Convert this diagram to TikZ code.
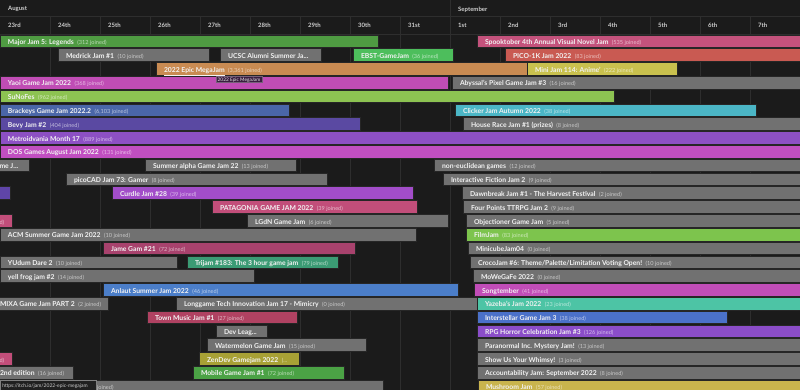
\documentclass[tikz,border=0pt]{standalone}
\usepackage{fontspec}
\setmainfont{Lato}
\definecolor{bg}{HTML}{1B1B1B}
\definecolor{gridc}{HTML}{2E2E2E}
\definecolor{hdrtext}{HTML}{CFCFCF}
\definecolor{cgray}{HTML}{717171}
\definecolor{cmajor}{HTML}{4F9B42}
\definecolor{cspook}{HTML}{C4527C}
\definecolor{cebst}{HTML}{4DBE5C}
\definecolor{cpico}{HTML}{C95A52}
\definecolor{cepic}{HTML}{C98B52}
\definecolor{cmini}{HTML}{C9C14E}
\definecolor{cyaoi}{HTML}{C04DB5}
\definecolor{csuno}{HTML}{8DC352}
\definecolor{cbrack}{HTML}{4A66A8}
\definecolor{cclick}{HTML}{4BB6C6}
\definecolor{cbevy}{HTML}{5A49A2}
\definecolor{cmetro}{HTML}{8D50C4}
\definecolor{cdos}{HTML}{C14FC1}
\definecolor{ccurdle}{HTML}{A24DC9}
\definecolor{cpata}{HTML}{C24E7A}
\definecolor{cfilm}{HTML}{7DC44D}
\definecolor{cjame}{HTML}{A8426D}
\definecolor{ctri}{HTML}{3B9B74}
\definecolor{canlaut}{HTML}{4B7EC9}
\definecolor{csong}{HTML}{C14DB8}
\definecolor{cyaz}{HTML}{4DC4A5}
\definecolor{ctown}{HTML}{B04262}
\definecolor{cinter}{HTML}{4B71C9}
\definecolor{crpg}{HTML}{8B4DC9}
\definecolor{czen}{HTML}{A8A135}
\definecolor{cmobile}{HTML}{4BA245}
\definecolor{cmush}{HTML}{C9B44D}
\definecolor{cindigo}{HTML}{5F45A8}
\definecolor{tipbg}{HTML}{3A1E40}
\definecolor{urlbg}{HTML}{202020}
\tikzset{
  bar/.style={rectangle, inner sep=0pt, outer sep=0pt, anchor=west,
    minimum height=12.6pt, draw=black!85, line width=0.8pt},
  lbl/.style={anchor=west, inner sep=0pt, outer sep=0pt, text=white!95!black,
    text height=6.4pt, text depth=0pt, font=\fontsize{6.8}{7}\selectfont\bfseries},
  hdr/.style={anchor=west, inner sep=0pt, text=hdrtext,
    font=\fontsize{6}{7}\selectfont\bfseries},
  gridline/.style={draw=gridc, line width=0.9pt},
}
\newcounter{jam}
\newcommand\cnt[2]{{\fontsize{5.6}{6}\selectfont\mdseries\color{white!62!#1}#2}}
\newcommand\jam[6]{%
  \stepcounter{jam}%
  \node[bar, fill=#4, minimum width={(#3)-(#2)}] (b\thejam) at (#2,{41.4+(#1-1)*13.8}) {};
  \node[lbl] (t\thejam) at ([xshift=8pt]b\thejam.west)
    {#5\ifx\relax#6\relax\else\hspace{3.5pt}\cnt{#4}{#6}\fi};
}
\newcommand\lab[3]{%
  \stepcounter{jam}%
  \node[lbl] (t\thejam) at (#2,{41.4+(#1-1)*13.8}) {#3};
}
\begin{document}
\begin{tikzpicture}[x=1pt,y=-1pt]
\useasboundingbox (0,0) rectangle (800,390);
\fill[bg] (0,0) rectangle (800,390);
\begin{scope}
\clip (0,0) rectangle (800,390);
% header grid
\draw[gridline] (0,16.5) -- (800,16.5);
\draw[gridline] (0,34) -- (800,34);
\draw[gridline] (450,0) -- (450,17);
\foreach \i in {1,...,15} \draw[gridline] (\i*50,17) -- (\i*50,390);
\node[hdr] (aug) at (8,9.3) {August};
\node[hdr] (sep) at (458,9.3) {September};
\foreach \d [count=\i from 0] in {23rd,24th,25th,26th,27th,28th,29th,30th,31st,1st,2nd,3rd,4th,5th,6th,7th}
  \node[hdr] (d\i) at (\i*50+8,25.5) {\d};
% rows
\jam{1}{0}{378}{cmajor}{Major Jam 5: Legends}{(312 joined)}
\jam{1}{477}{805}{cspook}{Spooktober 4th Annual Visual Novel Jam}{(535 joined)}
\jam{2}{58}{209}{cgray}{Medrick Jam \#1}{(10 joined)}
\jam{2}{220}{321}{cgray}{UCSC Alumni Summer Ja...}{}
\jam{2}{353}{453}{cebst}{EBST-GameJam}{(36 joined)}
\jam{2}{505}{805}{cpico}{PICO-1K Jam 2022}{(83 joined)}
\jam{3}{156}{528}{cepic}{\underline{2022 Epic MegaJam}}{(3,361 joined)}
\jam{3}{527}{677}{cmini}{Mini Jam 114: Anime'}{(222 joined)}
\jam{4}{0}{448}{cyaoi}{Yaoi Game Jam 2022}{(368 joined)}
\jam{4}{452}{805}{cgray}{Abyssal's Pixel Game Jam \#3}{(16 joined)}
\jam{5}{0}{614}{csuno}{SuNoFes}{(962 joined)}
\jam{6}{0}{289}{cbrack}{Brackeys Game Jam 2022.2}{(6,103 joined)}
\jam{6}{455}{756}{cclick}{Clicker Jam Autumn 2022}{(38 joined)}
\jam{7}{0}{360}{cbevy}{Bevy Jam \#2}{(404 joined)}
\jam{7}{463}{805}{cgray}{House Race Jam \#1 (prizes)}{(8 joined)}
\jam{8}{0}{805}{cmetro}{Metroidvania Month 17}{(889 joined)}
\jam{9}{0}{805}{cdos}{DOS Games August Jam 2022}{(131 joined)}
\jam{10}{-30}{29}{cgray}{}{}
\lab{10}{-0.5}{me J...}
\jam{10}{145}{296}{cgray}{Summer alpha Game Jam 22}{(13 joined)}
\jam{10}{434}{805}{cgray}{non-euclidean games}{(12 joined)}
\jam{11}{66}{327}{cgray}{picoCAD Jam 73: Gamer}{(8 joined)}
\jam{11}{443}{805}{cgray}{Interactive Fiction Jam 2}{(9 joined)}
\jam{12}{-30}{10}{cindigo}{}{}
\jam{12}{112}{413}{ccurdle}{Curdle Jam \#28}{(39 joined)}
\jam{12}{462}{805}{cgray}{Dawnbreak Jam \#1 - The Harvest Festival}{(2 joined)}
\jam{13}{212}{417}{cpata}{PATAGONIA GAME JAM 2022}{(39 joined)}
\jam{13}{463}{805}{cgray}{Four Points TTRPG Jam 2}{(9 joined)}
\jam{14}{-30}{12}{cpata}{}{}
\lab{14}{-0.5}{\cnt{cpata}{d)}}
\jam{14}{247}{448}{cgray}{LGdN Game Jam}{(6 joined)}
\jam{14}{466}{805}{cgray}{Objectioner Game Jam}{(5 joined)}
\jam{15}{0}{416}{cgray}{ACM Summer Game Jam 2022}{(10 joined)}
\jam{15}{466}{805}{cfilm}{FilmJam}{(83 joined)}
\jam{16}{103}{355}{cjame}{Jame Gam \#21}{(72 joined)}
\jam{16}{468}{805}{cgray}{MinicubeJam04}{(0 joined)}
\jam{17}{0}{177}{cgray}{YUdum Dare 2}{(10 joined)}
\jam{17}{187}{338}{ctri}{Trijam \#183: The 3 hour game jam}{(79 joined)}
\jam{17}{470}{805}{cgray}{CrocoJam \#6: Theme/Palette/Limitation Voting Open!}{(10 joined)}
\jam{18}{0}{254}{cgray}{yell frog jam \#2}{(14 joined)}
\jam{18}{473}{805}{cgray}{MoWeGaFe 2022}{(0 joined)}
\jam{19}{103}{458}{canlaut}{Anlaut Summer Jam 2022}{(46 joined)}
\jam{19}{474}{805}{csong}{Songtember}{(41 joined)}
\jam{20}{-30}{108}{cgray}{}{}
\lab{20}{0}{MIXA Game Jam PART 2\hspace{3.5pt}\cnt{cgray}{(2 joined)}}
\jam{20}{176}{477}{cgray}{Longgame Tech Innovation Jam 17 - Mimicry}{(0 joined)}
\jam{20}{477}{805}{cyaz}{Yazeba's Jam 2022}{(23 joined)}
\jam{21}{147}{297}{ctown}{Town Music Jam \#1}{(27 joined)}
\jam{21}{477}{727}{cinter}{Interstellar Game Jam 3}{(38 joined)}
\jam{22}{216}{267}{cgray}{Dev Leag...}{}
\jam{22}{477}{805}{crpg}{RPG Horror Celebration Jam \#3}{(126 joined)}
\jam{23}{207}{366}{cgray}{Watermelon Game Jam}{(15 joined)}
\jam{23}{477}{805}{cgray}{Paranormal Inc. Mystery Jam!}{(13 joined)}
\jam{24}{-30}{12}{cpata}{}{}
\lab{24}{-0.5}{\cnt{cpata}{d)}}
\jam{24}{199}{299}{czen}{ZenDev Gamejam 2022}{(...}
\jam{24}{477}{805}{cgray}{Show Us Your Whimsy!}{(3 joined)}
\jam{25}{-30}{73}{cgray}{}{}
\lab{25}{0}{2nd edition\hspace{3.5pt}\cnt{cgray}{(16 joined)}}
\jam{25}{193}{344}{cmobile}{Mobile Game Jam \#1}{(72 joined)}
\jam{25}{477}{805}{cgray}{Accountability Jam: September 2022}{(8 joined)}
\jam{26}{0}{383}{cgray}{}{}
\lab{26}{97}{\cnt{cgray}{joined)}}
\jam{26}{478}{805}{cmush}{Mushroom Jam}{(57 joined)}
% tooltip
\node[fill=tipbg, draw=tipbg!70!white, line width=0.4pt, anchor=north west,
  inner xsep=1.5pt, inner ysep=0.8pt, text height=3.8pt, text depth=0.6pt,
  text=white!90!black, font=\fontsize{4.8}{5}\selectfont] (tip) at (216,76.3) {2022 Epic MegaJam};
% status url
\node[fill=urlbg, draw=black!50, line width=0.5pt, anchor=north west,
  minimum width=96pt, minimum height=11pt, inner xsep=2pt, inner ysep=0pt,
  text=white!80!black, font=\fontsize{5}{5}\selectfont, align=left,
  text width=92pt] (url) at (0,380) {https://itch.io/jam/2022-epic-megajam};
\end{scope}
\end{tikzpicture}
\end{document}
